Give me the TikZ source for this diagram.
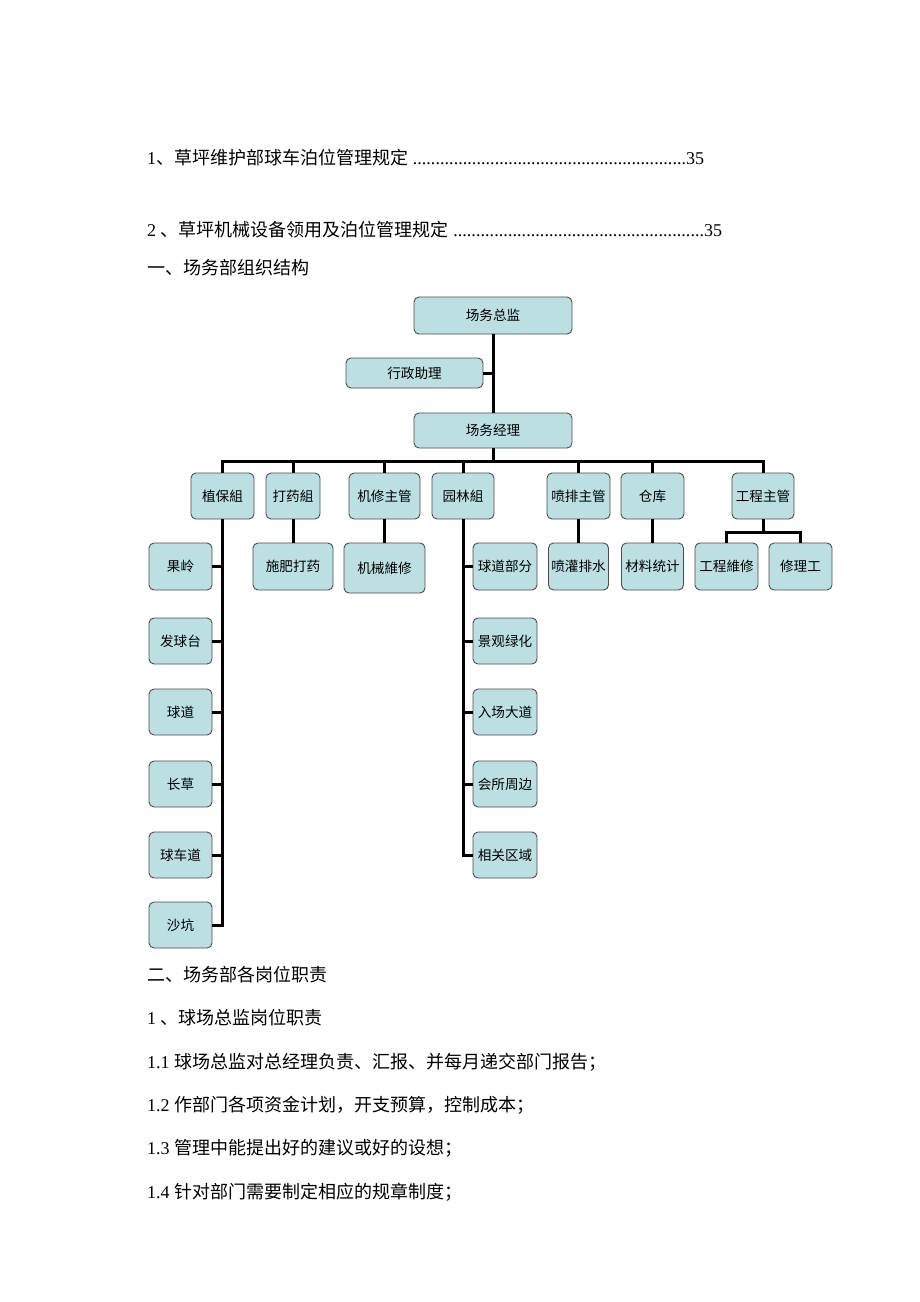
\documentclass[tikz,border=0pt]{standalone}
\usepackage{fontspec}
\setmainfont{Liberation Serif}
\newfontfamily\cjk{Noto Sans CJK SC}
\definecolor{boxc}{RGB}{188,224,226}
\begin{document}
\begin{tikzpicture}[x=1pt,y=-1pt,
  box/.style={draw=black!70, fill=boxc, rounded corners=5pt, line width=0.9pt, inner sep=0pt,
    font=\cjk\fontsize{13.6}{13.6}\selectfont},
  conn/.style={line width=3pt, black},
  body/.style={anchor=west, inner sep=0pt, font=\fontsize{18}{18}\selectfont}]
\useasboundingbox[fill=white] (0,0) rectangle (920,1302);

% text above
\node[body] (t1) at (147,158) {\hbox to 557pt{1{\cjk 、草坪维护部球车泊位管理规定} \xleaders\hbox{.}\hfill 35}};
\node[body] (t2) at (147,230) {\hbox to 575pt{2 {\cjk 、草坪机械设备领用及泊位管理规定} \xleaders\hbox{.}\hfill 35}};
\node[body] (t3) at (147,268) {{\cjk 一、场务部组织结构}};

% top
\node[box, minimum width=158pt, minimum height=37pt] (zj) at (493,315.5) {场务总监};
\node[box, minimum width=137pt, minimum height=30pt] (xz) at (414.5,373) {行政助理};
\node[box, minimum width=158pt, minimum height=35pt] (jl) at (493,430.5) {场务经理};

% level 2
\node[box, minimum width=63pt, minimum height=46pt] (zb) at (222.5,496) {植保組};
\node[box, minimum width=54pt, minimum height=46pt] (dy) at (293,496) {打药組};
\node[box, minimum width=71pt, minimum height=46pt] (jx) at (384.5,496) {机修主管};
\node[box, minimum width=62pt, minimum height=46pt] (yl) at (463,496) {园林組};
\node[box, minimum width=63pt, minimum height=46pt] (pp) at (578.5,496) {喷排主管};
\node[box, minimum width=63pt, minimum height=46pt] (ck) at (652.5,496) {仓库};
\node[box, minimum width=62pt, minimum height=46pt] (gc) at (763,496) {工程主管};

% level 3
\node[box, minimum width=80pt, minimum height=47pt] (sf) at (293,566.5) {施肥打药};
\node[box, minimum width=81pt, minimum height=50pt] (jw) at (384.5,568) {机械維修};
\node[box, minimum width=60pt, minimum height=47pt] (pg) at (578.5,566.5) {喷灌排水};
\node[box, minimum width=62pt, minimum height=47pt] (cl) at (652.5,566.5) {材料统计};
\node[box, minimum width=63pt, minimum height=47pt] (gw) at (726.5,566.5) {工程維修};
\node[box, minimum width=63pt, minimum height=47pt] (xl) at (800.5,566.5) {修理工};

% left column
\node[box, minimum width=63pt, minimum height=47pt] (a1) at (180.5,566.5) {果岭};
\node[box, minimum width=63pt, minimum height=46pt] (a2) at (180.5,641) {发球台};
\node[box, minimum width=63pt, minimum height=46pt] (a3) at (180.5,712) {球道};
\node[box, minimum width=63pt, minimum height=46pt] (a4) at (180.5,784) {长草};
\node[box, minimum width=63pt, minimum height=46pt] (a5) at (180.5,855) {球车道};
\node[box, minimum width=63pt, minimum height=46pt] (a6) at (180.5,925) {沙坑};

% right column
\node[box, minimum width=64pt, minimum height=47pt] (b1) at (505,566.5) {球道部分};
\node[box, minimum width=64pt, minimum height=46pt] (b2) at (505,641) {景观绿化};
\node[box, minimum width=64pt, minimum height=46pt] (b3) at (505,712) {入场大道};
\node[box, minimum width=64pt, minimum height=46pt] (b4) at (505,784) {会所周边};
\node[box, minimum width=64pt, minimum height=46pt] (b5) at (505,855) {相关区域};

% connectors
\coordinate (bar) at (493,461);
\coordinate (gbar) at (763,532);
\draw[conn] (zj.south) -- (jl.north);
\draw[conn] (xz.east) -- (xz.east -| zj.south);
\draw[conn] (jl.south) -- (bar);
\draw[conn] ([xshift=-1.5pt]zb.north |- bar) -- ([xshift=1.5pt]gc.north |- bar);
\foreach \n in {zb,dy,jx,yl,pp,ck,gc} {\draw[conn] (\n.north) -- (\n.north |- bar);}
\draw[conn] (dy.south) -- (sf.north);
\draw[conn] (jx.south) -- (jw.north);
\draw[conn] (pp.south) -- (pg.north);
\draw[conn] (ck.south) -- (cl.north);
\draw[conn] (gc.south) -- (gbar);
\draw[conn] ([xshift=-1.5pt]gw.north |- gbar) -- ([xshift=1.5pt]xl.north |- gbar);
\draw[conn] (gw.north) -- (gw.north |- gbar);
\draw[conn] (xl.north) -- (xl.north |- gbar);
\draw[conn] (zb.south) -- ([yshift=-1.5pt]zb.south |- a6.east);
\foreach \n in {a1,a2,a3,a4,a5,a6} {\draw[conn] (\n.east) -- (\n.east -| zb.south);}
\draw[conn] (yl.south) -- ([yshift=-1.5pt]yl.south |- b5.west);
\foreach \n in {b1,b2,b3,b4,b5} {\draw[conn] (\n.west) -- (\n.west -| yl.south);}

% text below
\node[body] (u1) at (147,975) {{\cjk 二、场务部各岗位职责}};
\node[body] (u2) at (147,1018) {1 {\cjk 、球场总监岗位职责}};
\node[body] (u3) at (147,1062) {1.1 {\cjk 球场总监对总经理负责、汇报、并每月递交部门报告；}};
\node[body] (u4) at (147,1105) {1.2 {\cjk 作部门各项资金计划，开支预算，控制成本；}};
\node[body] (u5) at (147,1148) {1.3 {\cjk 管理中能提出好的建议或好的设想；}};
\node[body] (u6) at (147,1192) {1.4 {\cjk 针对部门需要制定相应的规章制度；}};
\end{tikzpicture}
\end{document}
